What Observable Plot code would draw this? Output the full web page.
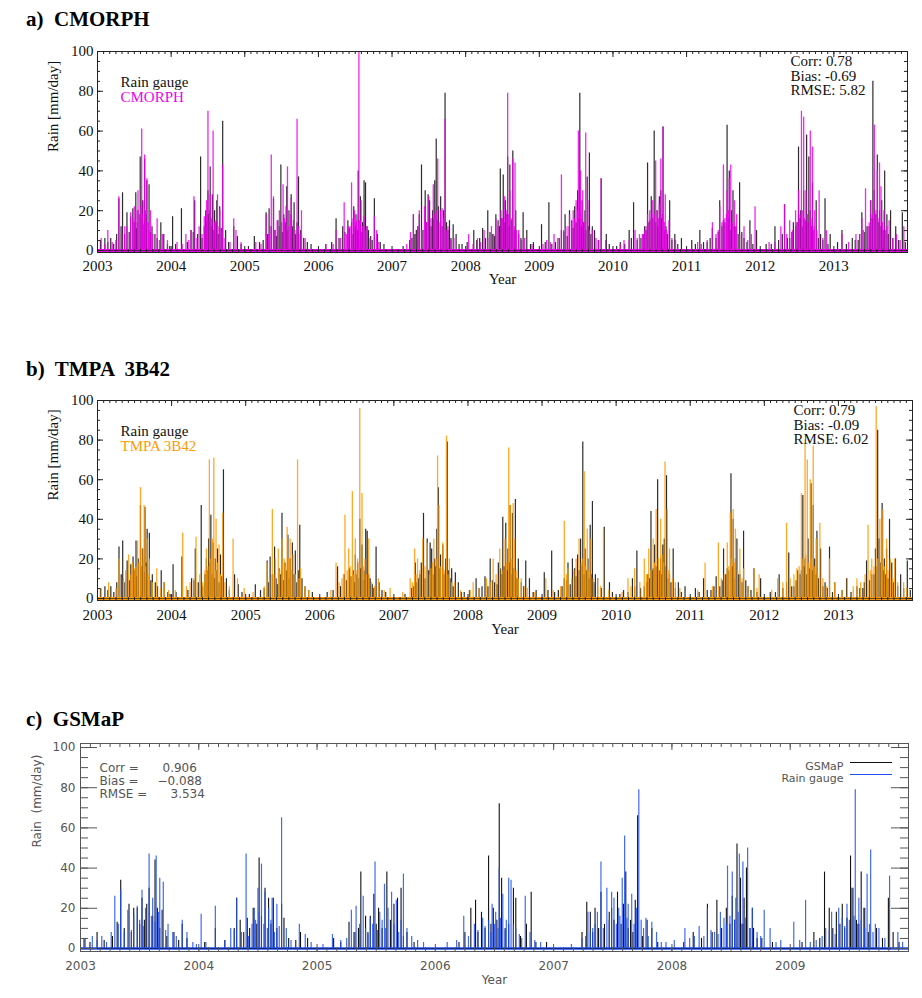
<!DOCTYPE html>
<html><head><meta charset="utf-8">
<script src="https://cdn.jsdelivr.net/npm/d3@7"></script>
<script src="https://cdn.jsdelivr.net/npm/@observablehq/plot@0.6"></script>
<style>
body{margin:0;background:#fff;width:922px;height:998px;position:relative;overflow:hidden}
.panel{position:absolute;left:0}
.title{position:absolute;left:26px;font:bold 21px "Liberation Serif","Times New Roman",serif;white-space:pre;line-height:21px;color:#000}
.swatch{position:absolute;height:0;width:42px;border-top:1.3px solid}
</style></head><body>
<div class="title" style="top:9px">a)  CMORPH</div>
<div class="title" style="top:359px">b)  TMPA  3B42</div>
<div class="title" style="top:709px">c)  GSMaP</div>
<div id="pa" class="panel" style="top:40px"></div>
<div id="pb" class="panel" style="top:389px"></div>
<div id="pc" class="panel" style="top:735px"></div>
<div class="swatch" style="left:850px;top:762px;border-color:#111"></div>
<div class="swatch" style="left:850px;top:774px;border-color:#2050f0"></div>
<script>
// ---------- data: [decimal year, rain mm/day] ----------
const gaugeRain = [
[2003.04,5],[2003.10,6],[2003.14,4],[2003.22,3],[2003.29,26],[2003.34,29],[2003.37,8],[2003.40,19],[2003.45,17],[2003.48,21],[2003.52,29],[2003.55,20],[2003.58,47],[2003.61,25],[2003.64,46],[2003.67,35],[2003.70,33],[2003.74,12],[2003.78,8],[2003.86,14],[2003.90,8],[2003.95,3],
[2003.18,6],[2003.26,8],[2003.32,12],[2003.43,9],[2003.50,14],[2003.53,11],[2003.60,16],[2003.63,13],[2003.66,18],[2003.72,9],[2003.81,6],[2003.98,2],
[2004.02,17],[2004.14,21],[2004.27,10],[2004.32,25],[2004.36,8],[2004.40,47],[2004.45,12],[2004.47,20],[2004.50,30],[2004.53,42],[2004.56,28],[2004.59,20],[2004.62,25],[2004.66,22],[2004.70,65],[2004.74,10],[2004.85,12],[2004.90,7],
[2004.06,3],[2004.22,4],[2004.30,9],[2004.42,6],[2004.48,14],[2004.51,18],[2004.55,12],[2004.58,10],[2004.61,14],[2004.64,8],[2004.68,11],[2004.78,4],[2004.95,3],
[2005.13,7],[2005.20,4],[2005.29,19],[2005.33,21],[2005.36,12],[2005.39,26],[2005.45,15],[2005.49,43],[2005.53,18],[2005.57,32],[2005.60,20],[2005.63,28],[2005.67,24],[2005.73,37],[2005.76,10],[2005.80,6],[2005.90,3],
[2005.05,2],[2005.25,5],[2005.31,8],[2005.41,10],[2005.43,7],[2005.47,12],[2005.51,9],[2005.55,14],[2005.58,10],[2005.65,12],[2005.69,8],[2005.71,14],[2005.85,4],
[2006.10,3],[2006.24,16],[2006.33,12],[2006.40,15],[2006.45,14],[2006.48,22],[2006.51,18],[2006.54,40],[2006.57,27],[2006.60,14],[2006.62,35],[2006.64,34],[2006.68,10],[2006.76,26],[2006.80,8],[2006.89,3],
[2006.18,4],[2006.28,6],[2006.36,9],[2006.42,11],[2006.47,8],[2006.50,12],[2006.53,10],[2006.55,15],[2006.59,9],[2006.66,12],[2006.71,7],[2006.73,5],[2006.84,4],
[2007.24,5],[2007.29,18],[2007.33,10],[2007.37,18],[2007.40,43],[2007.45,30],[2007.49,28],[2007.51,25],[2007.55,20],[2007.58,35],[2007.60,56],[2007.63,22],[2007.66,27],[2007.70,20],[2007.72,79],[2007.78,15],[2007.83,13],[2007.87,8],[2007.95,3],
[2007.15,2],[2007.27,6],[2007.31,8],[2007.35,12],[2007.42,10],[2007.47,14],[2007.53,12],[2007.56,16],[2007.62,15],[2007.68,12],[2007.74,14],[2007.76,10],[2007.80,6],[2007.91,3],
[2008.11,10],[2008.19,6],[2008.23,11],[2008.30,20],[2008.36,8],[2008.41,18],[2008.44,15],[2008.47,41],[2008.51,38],[2008.54,25],[2008.57,47],[2008.60,43],[2008.64,50],[2008.68,20],[2008.72,8],[2008.78,19],[2008.83,10],[2008.92,4],
[2008.02,4],[2008.15,5],[2008.27,6],[2008.33,9],[2008.39,7],[2008.46,12],[2008.49,16],[2008.53,14],[2008.56,18],[2008.59,12],[2008.62,15],[2008.66,10],[2008.75,6],[2008.88,3],
[2009.03,13],[2009.13,24],[2009.22,4],[2009.30,10],[2009.35,18],[2009.41,20],[2009.44,15],[2009.48,22],[2009.52,30],[2009.55,79],[2009.58,25],[2009.62,20],[2009.65,37],[2009.68,49],[2009.72,12],[2009.75,10],[2009.84,36],[2009.91,8],
[2009.08,4],[2009.17,3],[2009.27,6],[2009.33,9],[2009.38,7],[2009.46,11],[2009.50,14],[2009.54,16],[2009.57,12],[2009.60,14],[2009.63,10],[2009.67,12],[2009.70,8],[2009.80,5],[2009.95,3],
[2010.10,4],[2010.22,10],[2010.28,24],[2010.38,6],[2010.43,12],[2010.47,44],[2010.50,15],[2010.52,27],[2010.56,60],[2010.60,20],[2010.63,27],[2010.65,30],[2010.68,62],[2010.72,12],[2010.77,25],[2010.84,8],[2010.93,6],
[2010.05,2],[2010.16,3],[2010.25,6],[2010.33,5],[2010.41,8],[2010.45,10],[2010.49,14],[2010.54,16],[2010.58,14],[2010.61,12],[2010.66,16],[2010.70,10],[2010.74,8],[2010.80,5],[2010.88,3],
[2011.07,5],[2011.18,10],[2011.28,4],[2011.35,11],[2011.45,25],[2011.50,15],[2011.55,63],[2011.58,40],[2011.61,20],[2011.63,30],[2011.67,12],[2011.72,34],[2011.78,6],[2011.86,15],[2011.95,10],
[2011.12,3],[2011.23,4],[2011.32,6],[2011.40,6],[2011.43,9],[2011.48,12],[2011.52,14],[2011.57,16],[2011.60,10],[2011.65,12],[2011.70,8],[2011.75,9],[2011.82,4],[2011.90,3],
[2012.08,3],[2012.20,12],[2012.33,23],[2012.40,6],[2012.45,14],[2012.52,52],[2012.55,20],[2012.59,30],[2012.63,58],[2012.66,47],[2012.68,20],[2012.71,34],[2012.76,25],[2012.82,8],[2012.88,26],[2012.95,8],
[2012.15,3],[2012.25,5],[2012.30,8],[2012.37,6],[2012.43,9],[2012.48,12],[2012.50,14],[2012.54,16],[2012.57,12],[2012.61,15],[2012.65,14],[2012.70,12],[2012.73,10],[2012.79,6],[2012.85,5],[2012.92,3],
[2013.11,10],[2013.25,6],[2013.33,5],[2013.38,19],[2013.45,12],[2013.50,25],[2013.53,85],[2013.55,30],[2013.59,48],[2013.62,20],[2013.65,25],[2013.69,40],[2013.72,18],[2013.77,20],[2013.84,12],[2013.93,19],
[2013.05,4],[2013.17,3],[2013.29,5],[2013.35,8],[2013.42,9],[2013.48,12],[2013.52,16],[2013.57,18],[2013.61,14],[2013.64,12],[2013.67,10],[2013.74,8],[2013.80,6],[2013.88,5],[2013.97,4]
];
const cmorphRain = [
[2003.05,6],[2003.14,10],[2003.20,4],[2003.29,27],[2003.37,12],[2003.45,19],[2003.50,22],[2003.55,30],[2003.57,18],[2003.60,61],[2003.62,25],[2003.64,48],[2003.67,36],[2003.72,20],[2003.81,16],[2003.88,8],[2003.95,5],
[2003.10,3],[2003.25,5],[2003.33,8],[2003.40,12],[2003.48,16],[2003.52,20],[2003.54,14],[2003.59,22],[2003.61,18],[2003.65,20],[2003.69,14],[2003.70,10],[2003.75,8],[2003.84,5],
[2004.08,4],[2004.20,8],[2004.27,10],[2004.31,27],[2004.38,12],[2004.45,17],[2004.48,25],[2004.50,70],[2004.53,28],[2004.57,60],[2004.61,15],[2004.63,28],[2004.66,20],[2004.70,43],[2004.85,16],[2004.88,10],[2004.95,4],
[2004.15,3],[2004.24,5],[2004.35,6],[2004.42,8],[2004.47,12],[2004.49,18],[2004.52,20],[2004.55,16],[2004.59,14],[2004.65,12],[2004.68,10],[2004.73,6],[2004.80,4],
[2005.15,4],[2005.29,18],[2005.36,48],[2005.39,27],[2005.44,15],[2005.47,20],[2005.52,33],[2005.56,22],[2005.58,42],[2005.63,26],[2005.66,15],[2005.71,66],[2005.77,20],[2005.82,6],
[2005.22,3],[2005.32,8],[2005.34,12],[2005.41,10],[2005.50,14],[2005.54,16],[2005.60,12],[2005.62,18],[2005.68,10],[2005.73,12],[2005.75,8],
[2006.10,3],[2006.24,10],[2006.35,24],[2006.41,12],[2006.45,34],[2006.49,20],[2006.52,15],[2006.55,100],[2006.58,25],[2006.62,17],[2006.66,12],[2006.76,17],[2006.79,10],
[2006.20,3],[2006.30,6],[2006.38,8],[2006.43,12],[2006.47,16],[2006.51,14],[2006.54,18],[2006.57,15],[2006.60,12],[2006.64,10],[2006.70,6],[2006.82,4],
[2007.25,9],[2007.29,18],[2007.37,20],[2007.44,22],[2007.50,27],[2007.56,33],[2007.62,46],[2007.66,20],[2007.68,21],[2007.72,66],[2007.76,12],[2007.84,6],
[2007.20,3],[2007.32,8],[2007.35,12],[2007.40,10],[2007.47,14],[2007.53,16],[2007.58,18],[2007.60,20],[2007.64,14],[2007.70,16],[2007.74,10],[2007.80,5],
[2008.04,8],[2008.16,6],[2008.25,10],[2008.35,12],[2008.41,16],[2008.48,20],[2008.53,27],[2008.57,79],[2008.60,30],[2008.64,46],[2008.67,44],[2008.72,10],[2008.80,6],
[2008.10,3],[2008.20,4],[2008.30,6],[2008.38,8],[2008.44,12],[2008.50,16],[2008.55,20],[2008.58,18],[2008.62,16],[2008.66,12],[2008.69,10],[2008.76,5],[2008.90,3],
[2009.10,5],[2009.20,8],[2009.30,38],[2009.36,12],[2009.41,18],[2009.46,20],[2009.50,25],[2009.53,60],[2009.56,40],[2009.59,30],[2009.63,59],[2009.66,25],[2009.72,10],[2009.84,36],[2009.90,5],
[2009.05,3],[2009.15,4],[2009.25,6],[2009.33,10],[2009.39,12],[2009.44,14],[2009.48,16],[2009.52,20],[2009.55,18],[2009.58,16],[2009.61,14],[2009.68,10],[2009.77,6],[2009.81,5],
[2010.15,5],[2010.30,10],[2010.36,8],[2010.43,10],[2010.47,18],[2010.50,20],[2010.54,25],[2010.58,45],[2010.63,23],[2010.65,46],[2010.68,62],[2010.71,28],[2010.76,15],[2010.85,5],
[2010.10,3],[2010.22,5],[2010.33,6],[2010.40,8],[2010.45,12],[2010.49,14],[2010.52,16],[2010.56,18],[2010.60,20],[2010.62,16],[2010.67,18],[2010.70,14],[2010.73,10],[2010.80,6],
[2011.15,4],[2011.35,14],[2011.45,22],[2011.50,43],[2011.55,30],[2011.58,36],[2011.60,43],[2011.65,25],[2011.68,18],[2011.78,12],[2011.88,8],[2011.93,22],
[2011.20,3],[2011.28,5],[2011.40,8],[2011.43,10],[2011.48,14],[2011.52,16],[2011.54,18],[2011.57,20],[2011.62,14],[2011.66,10],[2011.72,8],[2011.83,5],
[2012.12,4],[2012.28,12],[2012.33,23],[2012.40,15],[2012.48,20],[2012.52,30],[2012.56,70],[2012.59,67],[2012.62,30],[2012.68,60],[2012.71,52],[2012.74,20],[2012.80,30],[2012.90,10],
[2012.20,4],[2012.36,8],[2012.44,10],[2012.50,14],[2012.54,18],[2012.57,20],[2012.60,16],[2012.64,18],[2012.66,14],[2012.69,16],[2012.73,12],[2012.77,10],[2012.85,6],
[2013.11,8],[2013.30,8],[2013.38,16],[2013.43,31],[2013.50,25],[2013.55,63],[2013.59,40],[2013.62,44],[2013.64,32],[2013.68,20],[2013.75,15],[2013.85,8],[2013.95,12],
[2013.20,4],[2013.35,8],[2013.40,10],[2013.46,12],[2013.48,14],[2013.52,18],[2013.57,20],[2013.60,16],[2013.66,14],[2013.70,10],[2013.72,12],[2013.80,6],[2013.90,5]
];
const tmpaRain = [
[2003.05,5],[2003.15,8],[2003.29,20],[2003.42,22],[2003.47,18],[2003.50,15],[2003.54,29],[2003.58,56],[2003.60,25],[2003.63,47],[2003.67,30],[2003.70,20],[2003.80,15],[2003.90,8],
[2003.25,5],[2003.35,10],[2003.38,14],[2003.45,12],[2003.52,16],[2003.56,18],[2003.62,20],[2003.65,16],[2003.69,12],[2003.74,8],[2003.85,5],[2003.96,4],
[2004.15,33],[2004.25,8],[2004.33,31],[2004.38,12],[2004.47,25],[2004.51,70],[2004.55,30],[2004.57,71],[2004.60,40],[2004.64,27],[2004.69,43],[2004.83,30],[2004.89,10],[2004.98,5],
[2004.05,4],[2004.20,6],[2004.30,10],[2004.42,8],[2004.45,14],[2004.49,16],[2004.53,20],[2004.59,14],[2004.62,18],[2004.66,12],[2004.72,8],[2004.78,6],
[2005.29,18],[2005.36,45],[2005.40,20],[2005.44,25],[2005.49,30],[2005.52,20],[2005.56,36],[2005.60,30],[2005.64,22],[2005.70,70],[2005.74,15],[2005.80,6],
[2005.10,3],[2005.25,6],[2005.32,10],[2005.38,12],[2005.46,14],[2005.50,18],[2005.54,16],[2005.58,20],[2005.62,14],[2005.67,12],[2005.72,10],[2005.85,4],
[2006.22,18],[2006.30,10],[2006.34,42],[2006.39,25],[2006.44,54],[2006.48,30],[2006.51,20],[2006.54,96],[2006.57,53],[2006.61,20],[2006.66,30],[2006.79,10],[2006.95,5],
[2006.15,4],[2006.26,8],[2006.32,12],[2006.37,14],[2006.41,16],[2006.46,12],[2006.49,14],[2006.53,18],[2006.59,16],[2006.63,12],[2006.70,8],[2006.74,6],[2006.87,4],
[2007.22,10],[2007.28,25],[2007.32,20],[2007.39,30],[2007.45,28],[2007.50,15],[2007.54,30],[2007.59,72],[2007.61,47],[2007.66,28],[2007.71,82],[2007.75,20],[2007.82,8],
[2007.12,3],[2007.25,8],[2007.30,12],[2007.35,14],[2007.42,16],[2007.48,12],[2007.52,18],[2007.57,20],[2007.63,16],[2007.68,14],[2007.73,12],[2007.78,8],[2007.90,4],
[2008.07,8],[2008.25,10],[2008.34,20],[2008.43,25],[2008.50,30],[2008.55,76],[2008.57,47],[2008.61,48],[2008.63,30],[2008.72,10],[2008.80,5],
[2008.03,4],[2008.15,5],[2008.30,8],[2008.38,12],[2008.46,14],[2008.52,18],[2008.59,20],[2008.65,14],[2008.68,10],[2008.76,6],[2008.90,3],
[2009.05,10],[2009.30,39],[2009.35,15],[2009.46,20],[2009.50,30],[2009.57,64],[2009.61,35],[2009.66,30],[2009.75,10],[2009.83,35],
[2009.15,4],[2009.25,6],[2009.33,12],[2009.40,10],[2009.43,14],[2009.53,18],[2009.55,20],[2009.59,16],[2009.63,14],[2009.69,10],[2009.79,6],[2009.90,4],
[2010.16,10],[2010.25,15],[2010.38,20],[2010.44,25],[2010.50,30],[2010.54,45],[2010.60,40],[2010.66,69],[2010.69,45],[2010.72,25],[2010.80,8],
[2010.08,3],[2010.20,6],[2010.32,8],[2010.41,12],[2010.47,14],[2010.52,18],[2010.57,20],[2010.62,22],[2010.64,18],[2010.71,14],[2010.76,10],[2010.86,5],
[2011.20,18],[2011.38,28],[2011.50,28],[2011.54,43],[2011.58,45],[2011.61,35],[2011.67,25],[2011.72,15],[2011.86,15],[2011.93,12],
[2011.10,4],[2011.30,6],[2011.42,10],[2011.46,12],[2011.52,16],[2011.56,20],[2011.60,18],[2011.64,14],[2011.70,10],[2011.78,6],[2011.90,5],
[2012.18,10],[2012.30,38],[2012.44,15],[2012.50,53],[2012.55,80],[2012.58,70],[2012.62,60],[2012.66,77],[2012.70,30],[2012.75,38],[2012.88,20],[2012.95,8],
[2012.10,4],[2012.25,8],[2012.35,10],[2012.40,12],[2012.47,16],[2012.52,20],[2012.56,22],[2012.60,18],[2012.64,20],[2012.68,16],[2012.72,12],[2012.79,10],[2012.84,6],
[2013.12,10],[2013.25,10],[2013.40,37],[2013.45,20],[2013.51,97],[2013.56,40],[2013.60,45],[2013.65,30],[2013.70,20],[2013.76,20],[2013.88,8],
[2013.05,4],[2013.20,6],[2013.30,8],[2013.36,12],[2013.43,14],[2013.48,16],[2013.53,20],[2013.58,18],[2013.62,16],[2013.67,14],[2013.73,10],[2013.80,8],[2013.92,5]
];
const gsmapRain = [
[2003.03,5],[2003.14,8],[2003.31,13],[2003.34,34],[2003.41,22],[2003.45,20],[2003.48,20],[2003.52,25],[2003.56,22],[2003.58,30],[2003.63,44],[2003.65,20],[2003.69,19],[2003.79,8],[2003.86,12],[2003.90,5],
[2003.08,3],[2003.20,4],[2003.27,6],[2003.37,10],[2003.43,8],[2003.50,12],[2003.54,14],[2003.61,16],[2003.67,10],[2003.73,6],[2003.83,4],
[2004.14,10],[2004.30,10],[2004.32,25],[2004.35,14],[2004.41,15],[2004.46,20],[2004.51,45],[2004.56,30],[2004.59,25],[2004.63,25],[2004.70,22],[2004.72,15],[2004.86,8],[2004.92,5],
[2004.05,3],[2004.22,4],[2004.38,8],[2004.43,10],[2004.49,12],[2004.53,16],[2004.61,12],[2004.66,10],[2004.76,5],[2004.82,4],
[2005.14,5],[2005.27,13],[2005.37,38],[2005.41,16],[2005.45,16],[2005.48,27],[2005.52,20],[2005.59,38],[2005.65,22],[2005.68,25],[2005.71,30],[2005.76,8],
[2005.20,3],[2005.32,8],[2005.35,10],[2005.43,8],[2005.50,12],[2005.55,10],[2005.62,14],[2005.73,6],[2005.82,3],
[2006.25,8],[2006.30,20],[2006.34,24],[2006.39,18],[2006.45,46],[2006.49,20],[2006.54,72],[2006.56,35],[2006.66,30],[2006.68,25],[2006.77,12],[2006.81,28],[2006.94,3],
[2006.20,3],[2006.36,8],[2006.42,10],[2006.47,12],[2006.52,14],[2006.59,10],[2006.62,12],[2006.72,6],[2006.85,3],
[2007.24,8],[2007.28,23],[2007.31,18],[2007.35,20],[2007.40,28],[2007.47,18],[2007.49,20],[2007.54,28],[2007.59,22],[2007.61,38],[2007.65,14],[2007.69,24],[2007.71,66],[2007.79,14],[2007.83,10],
[2007.33,8],[2007.38,10],[2007.43,12],[2007.51,14],[2007.57,12],[2007.63,10],[2007.67,8],[2007.75,6],[2007.88,3],
[2008.18,8],[2008.30,22],[2008.38,24],[2008.46,20],[2008.51,26],[2008.55,52],[2008.58,35],[2008.61,25],[2008.63,40],[2008.68,20],[2008.69,10],[2008.76,5],
[2008.10,3],[2008.25,5],[2008.34,8],[2008.42,10],[2008.49,12],[2008.53,14],[2008.60,12],[2008.66,10],[2008.72,5],[2008.85,3],
[2009.20,8],[2009.29,38],[2009.33,20],[2009.39,18],[2009.44,22],[2009.48,15],[2009.51,46],[2009.53,30],[2009.60,38],[2009.63,20],[2009.73,10],[2009.83,25],[2009.87,8],
[2009.10,3],[2009.25,5],[2009.36,10],[2009.42,12],[2009.46,10],[2009.56,14],[2009.58,12],[2009.66,8],[2009.78,5],[2009.92,3]
];
const yearTicksAB = [2003,2004,2005,2006,2007,2008,2009,2010,2011,2012,2013];
const yearTicksC = [2003,2004,2005,2006,2007,2008,2009];
const yTicks = [0,20,40,60,80,100];
const statsA = ["Corr: 0.78","Bias: -0.69","RMSE: 5.82"];
const statsB = ["Corr: 0.79","Bias: -0.09","RMSE: 6.02"];
const statsCLabels = ["Corr =","Bias =","RMSE ="];
const statsCValues = ["0.906","\u22120.088","3.534"];

// ---------- drawing ----------
const SERIF = "'Liberation Serif','Times New Roman',serif";
const SANS = "'DejaVu Sans','Liberation Sans',sans-serif";
const monthTicks = (a, b) => d3.range(a, b + 1e-6, 1 / 12);
const fiveTicks = d3.range(0, 101, 5);

function idlTicks(xd, yd, xMajor, xMinor, yMajor, yMinor, L, color) {
  const [x0, x1] = xd, [y0, y1] = yd;
  const s = {stroke: color, strokeWidth: 1};
  return [
    Plot.ruleY(yMinor, {y: d => d, x1: x0, x2: x0, insetRight: -L.yMin, ...s}),
    Plot.ruleY(yMajor, {y: d => d, x1: x0, x2: x0, insetRight: -L.yMaj, ...s}),
    Plot.ruleY(yMinor, {y: d => d, x1: x1, x2: x1, insetLeft: -L.yMin, ...s}),
    Plot.ruleY(yMajor, {y: d => d, x1: x1, x2: x1, insetLeft: -L.yMaj, ...s}),
    Plot.ruleX(xMinor, {x: d => d, y1: y0, y2: y0, insetTop: -L.xMin, ...s}),
    Plot.ruleX(xMajor, {x: d => d, y1: y0, y2: y0, insetTop: -L.xMaj, ...s}),
    Plot.ruleX(xMinor, {x: d => d, y1: y1, y2: y1, insetBottom: -L.xMin, ...s}),
    Plot.ruleX(xMajor, {x: d => d, y1: y1, y2: y1, insetBottom: -L.xMaj, ...s})
  ];
}

function serifPanel(o) {
  const xd = [2003, 2014], yd = [-1, 100];
  return Plot.plot({
    width: 922, height: o.height,
    marginTop: 11, marginBottom: o.mB, marginLeft: 97, marginRight: o.mR,
    x: {domain: xd}, y: {domain: yd},
    style: {fontFamily: SERIF, fontSize: "15px", color: "#111", background: "none", overflow: "visible"},
    marks: [
      Plot.ruleX(gaugeRain, {x: d => d[0], y1: 0, y2: d => d[1], stroke: "#151515", strokeWidth: 1.2, strokeOpacity: 0.9}),
      Plot.ruleX(o.sat, {x: d => d[0], y1: 0, y2: d => d[1], stroke: o.color, strokeWidth: 1.3, strokeOpacity: 0.85}),
      Plot.ruleY([0], {stroke: o.color, strokeWidth: 3}),
      Plot.ruleY([0], {stroke: "#222", strokeWidth: 1, strokeOpacity: 0.7}),
      Plot.frame({stroke: "#222"}),
      ...idlTicks(xd, yd, yearTicksAB, monthTicks(2003, 2014), yTicks, fiveTicks, {yMin: 3, yMaj: 6, xMin: 3, xMaj: 6}, "#222"),
      Plot.axisX(yearTicksAB, {tickSize: 0, tickPadding: o.xPad, tickFormat: d => String(d), label: null}),
      Plot.axisY(yTicks, {tickSize: 0, tickPadding: 4, tickFormat: d => String(d), label: null}),
      Plot.text(["Year"], {frameAnchor: "bottom", dy: o.yearDy}),
      Plot.text(["Rain [mm/day]"], {frameAnchor: "left", dx: -44, rotate: -90}),
      Plot.text(["Rain gauge"], {frameAnchor: "top-left", dx: 23, dy: 25, textAnchor: "start", fill: "#111"}),
      Plot.text([o.name], {frameAnchor: "top-left", dx: 23, dy: 40, textAnchor: "start", fill: o.color}),
      Plot.text([o.stats.join("\n")], {frameAnchor: "top-left", dx: o.statsDx, dy: 4, lineAnchor: "top", lineHeight: 0.98, textAnchor: "start", fill: "#111"})
    ]
  });
}

document.getElementById("pa").append(serifPanel({
  sat: cmorphRain, color: "#ee00ee", name: "CMORPH", stats: statsA,
  height: 255, mB: 43, mR: 15, xPad: 8, yearDy: 31, statsDx: 693
}));
document.getElementById("pb").append(serifPanel({
  sat: tmpaRain, color: "#ff9a00", name: "TMPA 3B42", stats: statsB,
  height: 254, mB: 43, mR: 10, xPad: 9, yearDy: 33, statsDx: 696
}));

const xdC = [2003, 2010], ydC = [-1.5, 102];
const gaugeC = gaugeRain.filter(d => d[0] < 2010);
const blue = "#2050f0";
const statMark = (arr, i, dx, dy) => Plot.text(arr, {frameAnchor: "top-left", dx, dy, textAnchor: "start", fontSize: 12, filter: (d, j) => j === i});
document.getElementById("pc").append(Plot.plot({
  width: 922, height: 261,
  marginTop: 8, marginBottom: 45, marginLeft: 80, marginRight: 14,
  x: {domain: xdC}, y: {domain: ydC},
  style: {fontFamily: SANS, fontSize: "12px", color: "#555", background: "none", overflow: "visible"},
  marks: [
    Plot.ruleX(gsmapRain, {x: d => d[0], y1: 0, y2: d => d[1], stroke: "#111", strokeWidth: 1.1}),
    Plot.ruleX(gaugeC, {x: d => d[0], y1: 0, y2: d => d[1], stroke: blue, strokeWidth: 1.2, strokeOpacity: 0.85}),
    Plot.ruleY([0], {stroke: blue, strokeWidth: 2.5}),
    Plot.ruleY([0], {stroke: "#113", strokeWidth: 1, strokeOpacity: 0.6}),
    Plot.frame({stroke: "#555"}),
    ...idlTicks(xdC, ydC, yearTicksC, monthTicks(2003, 2010), yTicks, fiveTicks, {yMin: 8, yMaj: 17, xMin: 4, xMaj: 7}, "#555"),
    Plot.axisX(yearTicksC, {tickSize: 0, tickPadding: 10, tickFormat: d => String(d), label: null}),
    Plot.axisY(yTicks, {tickSize: 0, tickPadding: 5, tickFormat: d => String(d), label: null}),
    Plot.text(["Year"], {frameAnchor: "bottom", dy: 32}),
    Plot.text(["Rain  (mm/day)"], {frameAnchor: "left", dx: -43, rotate: -90}),
    statMark(statsCLabels, 0, 19, 20), statMark(statsCLabels, 1, 19, 33), statMark(statsCLabels, 2, 19, 46),
    statMark(statsCValues, 0, 82, 20), statMark(statsCValues, 1, 77, 33), statMark(statsCValues, 2, 90, 46),
    Plot.text(["GSMaP"], {frameAnchor: "top-right", dx: -65, dy: 19, textAnchor: "end", fontSize: 11}),
    Plot.text(["Rain gauge"], {frameAnchor: "top-right", dx: -65, dy: 31, textAnchor: "end", fontSize: 11})
  ]
}));
</script>
</body></html>
